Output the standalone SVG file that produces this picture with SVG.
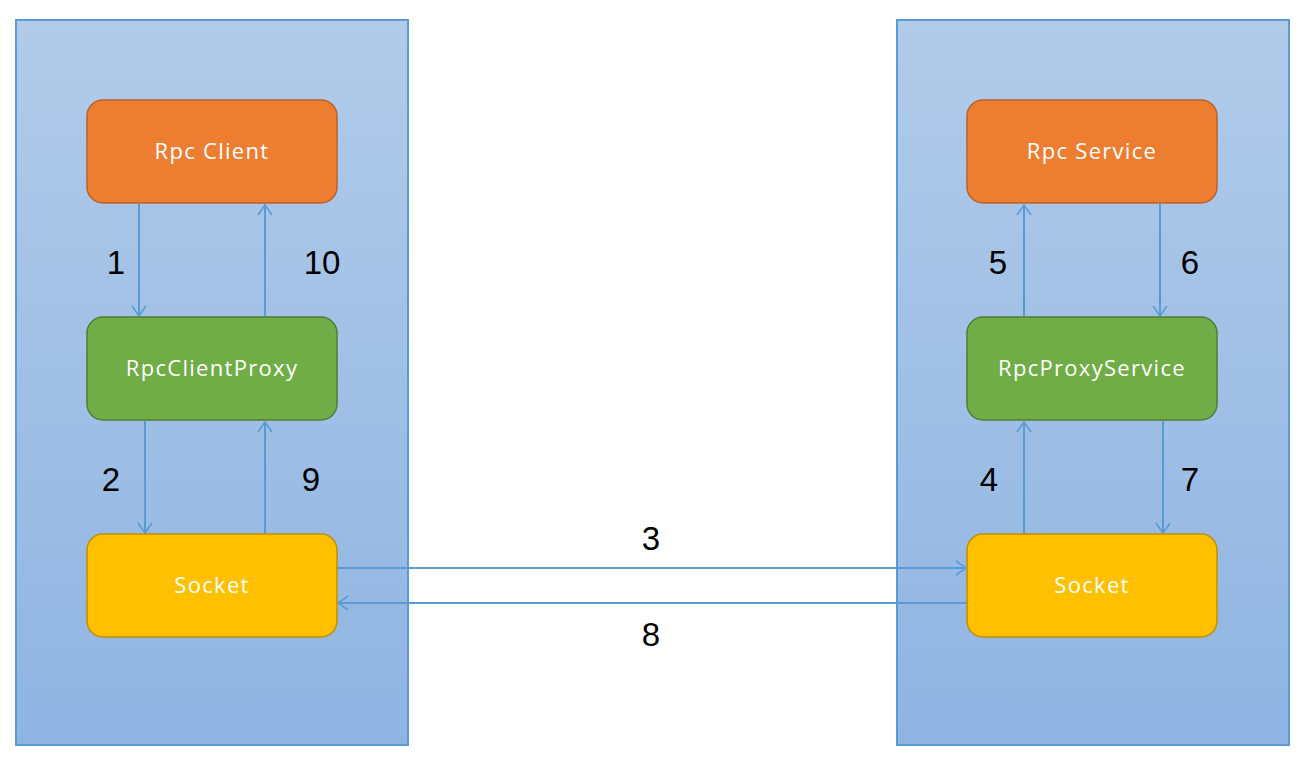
<svg xmlns="http://www.w3.org/2000/svg" width="1302" height="758" viewBox="0 0 1302 758">
<defs>
<linearGradient id="bg" x1="0" y1="0" x2="0" y2="1">
<stop offset="0" stop-color="#b1cbe9"/>
<stop offset="1" stop-color="#8fb4e2"/>
</linearGradient>
<marker id="ah" viewBox="0 0 12 16" refX="11" refY="8" markerWidth="12" markerHeight="16" markerUnits="userSpaceOnUse" orient="auto">
<path d="M1,1 L11,8 L1,15" fill="none" stroke="#5b9bd5" stroke-width="1.6"/>
</marker>
</defs>
<style>
.cont{fill:url(#bg);stroke:#5b9bd5;stroke-width:2}
.orange{fill:#ed7d31;stroke:#b9622a;stroke-width:1.5}
.green{fill:#70ad47;stroke:#507e32;stroke-width:1.5}
.yellow{fill:#ffc000;stroke:#bf9000;stroke-width:1.5}
.nt{font-family:"Open Sans","Liberation Sans",sans-serif;font-size:22px;letter-spacing:1.3px;fill:#ffffff;text-anchor:middle;dominant-baseline:central}
.num{font-family:"Liberation Sans",Arial,sans-serif;font-size:33px;fill:#000000;text-anchor:middle;dominant-baseline:central}
.conn line{stroke:#5b9bd5;stroke-width:2;marker-end:url(#ah)}
</style>
<rect width="1302" height="758" fill="#ffffff"/>
<g id="left-container"><rect class="cont" x="16" y="20" width="392" height="725"/></g>
<g id="right-container"><rect class="cont" x="897" y="20" width="392" height="725"/></g>
<g id="connectors" class="conn">
<line x1="139" y1="204" x2="139" y2="316"/>
<line x1="265" y1="317" x2="265" y2="205"/>
<line x1="145" y1="421" x2="145" y2="533"/>
<line x1="265" y1="534" x2="265" y2="422"/>
<line x1="1024" y1="317" x2="1024" y2="205"/>
<line x1="1160" y1="204" x2="1160" y2="316"/>
<line x1="1024" y1="534" x2="1024" y2="422"/>
<line x1="1163" y1="421" x2="1163" y2="533"/>
<line x1="337" y1="568" x2="966" y2="568"/>
<line x1="967" y1="603" x2="338" y2="603"/>
<text class="num" x="116" y="262">1</text>
<text class="num" x="322" y="262">10</text>
<text class="num" x="111" y="479">2</text>
<text class="num" x="311" y="479">9</text>
<text class="num" x="998" y="262">5</text>
<text class="num" x="1190" y="262">6</text>
<text class="num" x="989" y="479">4</text>
<text class="num" x="1190" y="479">7</text>
<text class="num" x="651" y="538">3</text>
<text class="num" x="651" y="634">8</text>
</g>
<g id="rpc-client"><rect class="orange" x="87" y="100" width="250" height="103" rx="16"/><text class="nt" x="212" y="149.5">Rpc Client</text></g>
<g id="rpc-client-proxy"><rect class="green" x="87" y="317" width="250" height="103" rx="16"/><text class="nt" x="212" y="366.5">RpcClientProxy</text></g>
<g id="socket-left"><rect class="yellow" x="87" y="534" width="250" height="103" rx="16"/><text class="nt" x="212" y="583.5">Socket</text></g>
<g id="rpc-service"><rect class="orange" x="967" y="100" width="250" height="103" rx="16"/><text class="nt" x="1092" y="149.5">Rpc Service</text></g>
<g id="rpc-proxy-service"><rect class="green" x="967" y="317" width="250" height="103" rx="16"/><text class="nt" x="1092" y="366.5">RpcProxyService</text></g>
<g id="socket-right"><rect class="yellow" x="967" y="534" width="250" height="103" rx="16"/><text class="nt" x="1092" y="583.5">Socket</text></g>
</svg>
